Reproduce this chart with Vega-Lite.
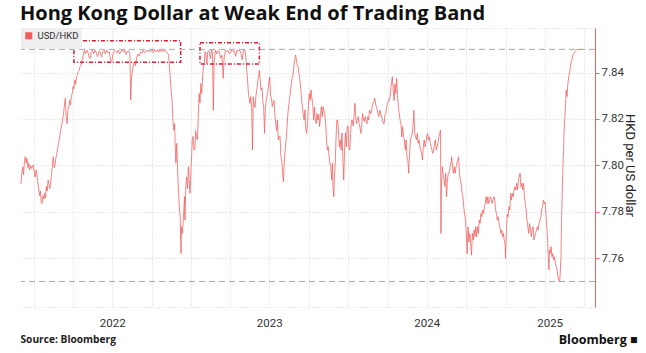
{
  "$schema": "https://vega.github.io/schema/vega-lite/v6.json",
  "width": 574,
  "height": 279,
  "autosize": "none",
  "padding": {"left": 21, "top": 28, "right": 51, "bottom": 46},
  "background": "white",
  "config": {
    "view": {"stroke": null},
    "font": "Roboto",
    "axis": {"labelFont": "Roboto", "titleFont": "Roboto"}
  },
  "title": {
    "text": "Hong Kong Dollar at Weak End of Trading Band",
    "anchor": "start",
    "frame": "group",
    "font": "Open Sans",
    "fontSize": 20,
    "fontWeight": "bold",
    "color": "#111111",
    "offset": 4,
    "dx": -1
  },
  "resolve": {"axis": {"x": "independent"}},
  "layer": [
    {
      "data": {"values": [{"v": 7.75}, {"v": 7.85}]},
      "mark": {"type": "rule", "color": "#a8a8a8", "strokeDash": [6, 4], "strokeWidth": 1},
      "encoding": {
        "y": {"field": "v", "type": "quantitative", "scale": {"domain": [7.739, 7.8592], "nice": false, "zero": false}}
      }
    },
    {
      "data": {"values": [
        {"d":"2021-12-01","v":7.792},{"d":"2021-12-03","v":7.797},{"d":"2021-12-05","v":7.7994},{"d":"2021-12-07","v":7.796},{"d":"2021-12-09","v":7.802},{"d":"2021-12-11","v":7.8037},{"d":"2021-12-13","v":7.801},{"d":"2021-12-15","v":7.803},{"d":"2021-12-17","v":7.799},{"d":"2021-12-19","v":7.801},{"d":"2021-12-21","v":7.798},{"d":"2021-12-23","v":7.800},{"d":"2021-12-26","v":7.7987},{"d":"2021-12-28","v":7.800},{"d":"2021-12-30","v":7.800},
        {"d":"2022-01-01","v":7.797},{"d":"2022-01-03","v":7.795},{"d":"2022-01-05","v":7.798},{"d":"2022-01-07","v":7.796},{"d":"2022-01-09","v":7.793},{"d":"2022-01-11","v":7.790},{"d":"2022-01-13","v":7.787},{"d":"2022-01-15","v":7.789},{"d":"2022-01-17","v":7.784},{"d":"2022-01-19","v":7.7836},{"d":"2022-01-21","v":7.787},{"d":"2022-01-23","v":7.7855},{"d":"2022-01-25","v":7.788},{"d":"2022-01-27","v":7.786},{"d":"2022-01-29","v":7.791},{"d":"2022-01-31","v":7.789},
        {"d":"2022-02-02","v":7.7937},{"d":"2022-02-04","v":7.792},{"d":"2022-02-06","v":7.790},{"d":"2022-02-08","v":7.793},{"d":"2022-02-10","v":7.7966},{"d":"2022-02-12","v":7.800},{"d":"2022-02-14","v":7.8037},{"d":"2022-02-16","v":7.799},{"d":"2022-02-18","v":7.800},{"d":"2022-02-20","v":7.803},{"d":"2022-02-22","v":7.805},{"d":"2022-02-24","v":7.807},{"d":"2022-02-26","v":7.8095},{"d":"2022-02-28","v":7.811},
        {"d":"2022-03-02","v":7.8138},{"d":"2022-03-04","v":7.816},{"d":"2022-03-06","v":7.818},{"d":"2022-03-08","v":7.820},{"d":"2022-03-10","v":7.8224},{"d":"2022-03-12","v":7.826},{"d":"2022-03-14","v":7.829},{"d":"2022-03-16","v":7.821},{"d":"2022-03-18","v":7.818},{"d":"2022-03-20","v":7.824},{"d":"2022-03-22","v":7.8253},{"d":"2022-03-24","v":7.828},{"d":"2022-03-26","v":7.826},{"d":"2022-03-28","v":7.8296},{"d":"2022-03-30","v":7.831},
        {"d":"2022-04-01","v":7.834},{"d":"2022-04-03","v":7.833},{"d":"2022-04-05","v":7.8368},{"d":"2022-04-07","v":7.835},{"d":"2022-04-09","v":7.838},{"d":"2022-04-11","v":7.839},{"d":"2022-04-13","v":7.8404},{"d":"2022-04-15","v":7.841},{"d":"2022-04-17","v":7.8425},{"d":"2022-04-19","v":7.843},{"d":"2022-04-21","v":7.8447},{"d":"2022-04-23","v":7.846},{"d":"2022-04-25","v":7.8476},{"d":"2022-04-27","v":7.8495},{"d":"2022-04-30","v":7.848},
        {"d":"2022-05-03","v":7.8497},{"d":"2022-05-06","v":7.8485},{"d":"2022-05-09","v":7.8462},{"d":"2022-05-11","v":7.8461},{"d":"2022-05-13","v":7.849},{"d":"2022-05-16","v":7.8497},{"d":"2022-05-19","v":7.848},{"d":"2022-05-22","v":7.8497},{"d":"2022-05-25","v":7.8485},{"d":"2022-05-28","v":7.8468},{"d":"2022-05-31","v":7.8492},
        {"d":"2022-06-03","v":7.8488},{"d":"2022-06-06","v":7.8468},{"d":"2022-06-09","v":7.849},{"d":"2022-06-12","v":7.8496},{"d":"2022-06-15","v":7.848},{"d":"2022-06-18","v":7.8497},{"d":"2022-06-21","v":7.8485},{"d":"2022-06-24","v":7.849},{"d":"2022-06-27","v":7.8455},{"d":"2022-06-30","v":7.8447},
        {"d":"2022-07-03","v":7.848},{"d":"2022-07-06","v":7.8495},{"d":"2022-07-09","v":7.849},{"d":"2022-07-12","v":7.8485},{"d":"2022-07-15","v":7.8497},{"d":"2022-07-18","v":7.848},{"d":"2022-07-21","v":7.849},{"d":"2022-07-24","v":7.8497},{"d":"2022-07-27","v":7.8488},{"d":"2022-07-30","v":7.8496},
        {"d":"2022-08-02","v":7.8478},{"d":"2022-08-05","v":7.849},{"d":"2022-08-08","v":7.8495},{"d":"2022-08-11","v":7.8481},{"d":"2022-08-13","v":7.8281},{"d":"2022-08-15","v":7.838},{"d":"2022-08-18","v":7.842},{"d":"2022-08-21","v":7.8445},{"d":"2022-08-24","v":7.843},{"d":"2022-08-27","v":7.8465},{"d":"2022-08-30","v":7.848},
        {"d":"2022-09-02","v":7.8472},{"d":"2022-09-05","v":7.849},{"d":"2022-09-08","v":7.8485},{"d":"2022-09-11","v":7.8496},{"d":"2022-09-14","v":7.8485},{"d":"2022-09-17","v":7.849},{"d":"2022-09-20","v":7.8497},{"d":"2022-09-23","v":7.8488},{"d":"2022-09-26","v":7.8496},{"d":"2022-09-29","v":7.849},
        {"d":"2022-10-02","v":7.8498},{"d":"2022-10-05","v":7.8485},{"d":"2022-10-08","v":7.8496},{"d":"2022-10-11","v":7.849},{"d":"2022-10-14","v":7.8499},{"d":"2022-10-17","v":7.8488},{"d":"2022-10-20","v":7.8497},{"d":"2022-10-23","v":7.849},{"d":"2022-10-26","v":7.8498},{"d":"2022-10-29","v":7.849},
        {"d":"2022-11-01","v":7.8496},{"d":"2022-11-04","v":7.8488},{"d":"2022-11-07","v":7.8483},{"d":"2022-11-09","v":7.8475},{"d":"2022-11-12","v":7.840},{"d":"2022-11-15","v":7.832},{"d":"2022-11-17","v":7.828},{"d":"2022-11-19","v":7.8195},{"d":"2022-11-21","v":7.8152},{"d":"2022-11-23","v":7.818},{"d":"2022-11-24","v":7.811},{"d":"2022-11-26","v":7.801},{"d":"2022-11-28","v":7.8095},{"d":"2022-11-30","v":7.798},
        {"d":"2022-12-02","v":7.789},{"d":"2022-12-04","v":7.782},{"d":"2022-12-06","v":7.7779},{"d":"2022-12-07","v":7.7678},{"d":"2022-12-08","v":7.762},{"d":"2022-12-09","v":7.7736},{"d":"2022-12-11","v":7.7707},{"d":"2022-12-13","v":7.776},{"d":"2022-12-14","v":7.7793},{"d":"2022-12-16","v":7.7865},{"d":"2022-12-17","v":7.7764},{"d":"2022-12-19","v":7.7908},{"d":"2022-12-21","v":7.795},{"d":"2022-12-23","v":7.790},{"d":"2022-12-25","v":7.7994},{"d":"2022-12-27","v":7.793},{"d":"2022-12-29","v":7.788},{"d":"2022-12-31","v":7.798},
        {"d":"2023-01-02","v":7.806},{"d":"2023-01-03","v":7.811},{"d":"2023-01-05","v":7.8125},{"d":"2023-01-07","v":7.807},{"d":"2023-01-09","v":7.8066},{"d":"2023-01-11","v":7.815},{"d":"2023-01-13","v":7.812},{"d":"2023-01-15","v":7.811},{"d":"2023-01-17","v":7.821},{"d":"2023-01-19","v":7.831},{"d":"2023-01-21","v":7.827},{"d":"2023-01-23","v":7.8353},{"d":"2023-01-25","v":7.831},{"d":"2023-01-27","v":7.8382},{"d":"2023-01-29","v":7.8425},{"d":"2023-01-31","v":7.8445},
        {"d":"2023-02-02","v":7.849},{"d":"2023-02-04","v":7.8475},{"d":"2023-02-06","v":7.844},{"d":"2023-02-08","v":7.849},{"d":"2023-02-11","v":7.8495},{"d":"2023-02-14","v":7.846},{"d":"2023-02-17","v":7.8497},{"d":"2023-02-19","v":7.849},{"d":"2023-02-21","v":7.8238},{"d":"2023-02-23","v":7.845},{"d":"2023-02-26","v":7.8497},
        {"d":"2023-03-01","v":7.848},{"d":"2023-03-04","v":7.8495},{"d":"2023-03-07","v":7.8488},{"d":"2023-03-10","v":7.8462},{"d":"2023-03-13","v":7.8475},{"d":"2023-03-16","v":7.8375},{"d":"2023-03-18","v":7.846},{"d":"2023-03-21","v":7.8497},{"d":"2023-03-24","v":7.849},{"d":"2023-03-27","v":7.8496},{"d":"2023-03-30","v":7.848},
        {"d":"2023-04-02","v":7.8485},{"d":"2023-04-05","v":7.8497},{"d":"2023-04-08","v":7.849},{"d":"2023-04-11","v":7.8492},{"d":"2023-04-14","v":7.847},{"d":"2023-04-17","v":7.8498},{"d":"2023-04-20","v":7.8492},{"d":"2023-04-23","v":7.8497},{"d":"2023-04-26","v":7.8485},{"d":"2023-04-29","v":7.8455},
        {"d":"2023-05-02","v":7.8495},{"d":"2023-05-05","v":7.8497},{"d":"2023-05-07","v":7.848},{"d":"2023-05-09","v":7.8425},{"d":"2023-05-11","v":7.838},{"d":"2023-05-13","v":7.8325},{"d":"2023-05-15","v":7.829},{"d":"2023-05-17","v":7.8267},{"d":"2023-05-19","v":7.8296},{"d":"2023-05-21","v":7.825},{"d":"2023-05-23","v":7.8066},{"d":"2023-05-25","v":7.8296},{"d":"2023-05-27","v":7.826},{"d":"2023-05-29","v":7.825},{"d":"2023-05-31","v":7.830},
        {"d":"2023-06-02","v":7.8325},{"d":"2023-06-04","v":7.836},{"d":"2023-06-06","v":7.838},{"d":"2023-06-08","v":7.841},{"d":"2023-06-10","v":7.837},{"d":"2023-06-12","v":7.8325},{"d":"2023-06-14","v":7.8335},{"d":"2023-06-16","v":7.828},{"d":"2023-06-18","v":7.825},{"d":"2023-06-20","v":7.8138},{"d":"2023-06-22","v":7.825},{"d":"2023-06-24","v":7.828},{"d":"2023-06-26","v":7.830},{"d":"2023-06-28","v":7.8325},{"d":"2023-06-30","v":7.836},
        {"d":"2023-07-02","v":7.838},{"d":"2023-07-04","v":7.830},{"d":"2023-07-06","v":7.829},{"d":"2023-07-08","v":7.8253},{"d":"2023-07-10","v":7.827},{"d":"2023-07-12","v":7.828},{"d":"2023-07-14","v":7.822},{"d":"2023-07-16","v":7.818},{"d":"2023-07-18","v":7.815},{"d":"2023-07-20","v":7.8195},{"d":"2023-07-22","v":7.811},{"d":"2023-07-24","v":7.8125},{"d":"2023-07-26","v":7.8125},{"d":"2023-07-28","v":7.8037},{"d":"2023-07-30","v":7.8023},
        {"d":"2023-08-01","v":7.7966},{"d":"2023-08-03","v":7.793},{"d":"2023-08-05","v":7.8023},{"d":"2023-08-07","v":7.8066},{"d":"2023-08-09","v":7.811},{"d":"2023-08-11","v":7.8155},{"d":"2023-08-13","v":7.822},{"d":"2023-08-15","v":7.8253},{"d":"2023-08-17","v":7.829},{"d":"2023-08-19","v":7.831},{"d":"2023-08-21","v":7.835},{"d":"2023-08-23","v":7.8375},{"d":"2023-08-25","v":7.839},{"d":"2023-08-27","v":7.8425},{"d":"2023-08-29","v":7.8455},{"d":"2023-08-31","v":7.8476},
        {"d":"2023-09-02","v":7.8455},{"d":"2023-09-04","v":7.843},{"d":"2023-09-06","v":7.8425},{"d":"2023-09-08","v":7.8397},{"d":"2023-09-10","v":7.837},{"d":"2023-09-12","v":7.834},{"d":"2023-09-14","v":7.828},{"d":"2023-09-16","v":7.825},{"d":"2023-09-18","v":7.822},{"d":"2023-09-20","v":7.8195},{"d":"2023-09-22","v":7.824},{"d":"2023-09-24","v":7.8152},{"d":"2023-09-26","v":7.8138},{"d":"2023-09-28","v":7.818},{"d":"2023-09-30","v":7.826},
        {"d":"2023-10-02","v":7.831},{"d":"2023-10-04","v":7.828},{"d":"2023-10-06","v":7.8325},{"d":"2023-10-08","v":7.829},{"d":"2023-10-10","v":7.8267},{"d":"2023-10-12","v":7.8195},{"d":"2023-10-14","v":7.825},{"d":"2023-10-16","v":7.8195},{"d":"2023-10-18","v":7.818},{"d":"2023-10-20","v":7.8224},{"d":"2023-10-22","v":7.8195},{"d":"2023-10-24","v":7.822},{"d":"2023-10-26","v":7.8167},{"d":"2023-10-28","v":7.821},{"d":"2023-10-30","v":7.8253},
        {"d":"2023-11-01","v":7.821},{"d":"2023-11-03","v":7.8253},{"d":"2023-11-05","v":7.8238},{"d":"2023-11-07","v":7.8224},{"d":"2023-11-09","v":7.818},{"d":"2023-11-11","v":7.811},{"d":"2023-11-13","v":7.8066},{"d":"2023-11-15","v":7.808},{"d":"2023-11-17","v":7.8037},{"d":"2023-11-19","v":7.801},{"d":"2023-11-21","v":7.7994},{"d":"2023-11-23","v":7.7937},{"d":"2023-11-25","v":7.801},{"d":"2023-11-26","v":7.791},{"d":"2023-11-28","v":7.7865},{"d":"2023-11-29","v":7.7937},
        {"d":"2023-12-01","v":7.7994},{"d":"2023-12-03","v":7.811},{"d":"2023-12-05","v":7.8195},{"d":"2023-12-07","v":7.8195},{"d":"2023-12-09","v":7.814},{"d":"2023-12-11","v":7.808},{"d":"2023-12-13","v":7.811},{"d":"2023-12-15","v":7.8066},{"d":"2023-12-17","v":7.814},{"d":"2023-12-19","v":7.803},{"d":"2023-12-21","v":7.7937},{"d":"2023-12-23","v":7.8066},{"d":"2023-12-25","v":7.814},{"d":"2023-12-27","v":7.808},{"d":"2023-12-29","v":7.8167},{"d":"2023-12-31","v":7.817},
        {"d":"2024-01-02","v":7.808},{"d":"2024-01-04","v":7.8066},{"d":"2024-01-06","v":7.8138},{"d":"2024-01-08","v":7.8195},{"d":"2024-01-10","v":7.8195},{"d":"2024-01-12","v":7.817},{"d":"2024-01-14","v":7.821},{"d":"2024-01-16","v":7.8267},{"d":"2024-01-18","v":7.821},{"d":"2024-01-20","v":7.818},{"d":"2024-01-22","v":7.820},{"d":"2024-01-24","v":7.821},{"d":"2024-01-26","v":7.818},{"d":"2024-01-28","v":7.816},{"d":"2024-01-30","v":7.8138},
        {"d":"2024-02-01","v":7.818},{"d":"2024-02-03","v":7.8224},{"d":"2024-02-05","v":7.8195},{"d":"2024-02-07","v":7.819},{"d":"2024-02-09","v":7.821},{"d":"2024-02-11","v":7.819},{"d":"2024-02-13","v":7.818},{"d":"2024-02-15","v":7.821},{"d":"2024-02-17","v":7.8195},{"d":"2024-02-19","v":7.8238},{"d":"2024-02-21","v":7.8224},{"d":"2024-02-23","v":7.8225},{"d":"2024-02-25","v":7.8253},{"d":"2024-02-27","v":7.8267},{"d":"2024-02-29","v":7.8275},
        {"d":"2024-03-02","v":7.829},{"d":"2024-03-04","v":7.8267},{"d":"2024-03-06","v":7.825},{"d":"2024-03-08","v":7.8238},{"d":"2024-03-10","v":7.822},{"d":"2024-03-12","v":7.821},{"d":"2024-03-14","v":7.8238},{"d":"2024-03-16","v":7.8224},{"d":"2024-03-18","v":7.821},{"d":"2024-03-20","v":7.8195},{"d":"2024-03-22","v":7.818},{"d":"2024-03-24","v":7.818},{"d":"2024-03-26","v":7.822},{"d":"2024-03-28","v":7.8224},{"d":"2024-03-30","v":7.8253},
        {"d":"2024-04-01","v":7.8267},{"d":"2024-04-03","v":7.8282},{"d":"2024-04-05","v":7.828},{"d":"2024-04-07","v":7.830},{"d":"2024-04-09","v":7.834},{"d":"2024-04-11","v":7.8368},{"d":"2024-04-12","v":7.8382},{"d":"2024-04-14","v":7.8325},{"d":"2024-04-16","v":7.828},{"d":"2024-04-18","v":7.835},{"d":"2024-04-20","v":7.831},{"d":"2024-04-22","v":7.8375},{"d":"2024-04-24","v":7.830},{"d":"2024-04-26","v":7.8253},{"d":"2024-04-28","v":7.8224},{"d":"2024-04-30","v":7.8195},
        {"d":"2024-05-02","v":7.818},{"d":"2024-05-04","v":7.8123},{"d":"2024-05-06","v":7.8166},{"d":"2024-05-08","v":7.8125},{"d":"2024-05-10","v":7.811},{"d":"2024-05-12","v":7.8066},{"d":"2024-05-14","v":7.811},{"d":"2024-05-16","v":7.8037},{"d":"2024-05-18","v":7.8023},{"d":"2024-05-20","v":7.7966},{"d":"2024-05-22","v":7.805},{"d":"2024-05-24","v":7.811},{"d":"2024-05-26","v":7.8123},{"d":"2024-05-28","v":7.8135},{"d":"2024-05-30","v":7.8167},
        {"d":"2024-06-01","v":7.8238},{"d":"2024-06-03","v":7.8138},{"d":"2024-06-05","v":7.8123},{"d":"2024-06-07","v":7.811},{"d":"2024-06-09","v":7.8138},{"d":"2024-06-11","v":7.8095},{"d":"2024-06-13","v":7.811},{"d":"2024-06-15","v":7.808},{"d":"2024-06-17","v":7.8066},{"d":"2024-06-19","v":7.8052},{"d":"2024-06-21","v":7.8023},{"d":"2024-06-23","v":7.808},{"d":"2024-06-25","v":7.811},{"d":"2024-06-27","v":7.808},{"d":"2024-06-29","v":7.8095},
        {"d":"2024-07-01","v":7.8123},{"d":"2024-07-03","v":7.8138},{"d":"2024-07-05","v":7.811},{"d":"2024-07-07","v":7.8123},{"d":"2024-07-09","v":7.8095},{"d":"2024-07-11","v":7.808},{"d":"2024-07-13","v":7.8066},{"d":"2024-07-15","v":7.8052},{"d":"2024-07-17","v":7.8066},{"d":"2024-07-19","v":7.8095},{"d":"2024-07-21","v":7.811},{"d":"2024-07-23","v":7.8066},{"d":"2024-07-25","v":7.808},{"d":"2024-07-27","v":7.8095},{"d":"2024-07-29","v":7.8123},{"d":"2024-07-31","v":7.8138},
        {"d":"2024-08-02","v":7.8152},{"d":"2024-08-03","v":7.7707},{"d":"2024-08-04","v":7.790},{"d":"2024-08-06","v":7.7994},{"d":"2024-08-08","v":7.7966},{"d":"2024-08-10","v":7.7937},{"d":"2024-08-12","v":7.791},{"d":"2024-08-14","v":7.7966},{"d":"2024-08-16","v":7.7865},{"d":"2024-08-18","v":7.7937},{"d":"2024-08-20","v":7.7966},{"d":"2024-08-22","v":7.7966},{"d":"2024-08-24","v":7.799},{"d":"2024-08-26","v":7.801},{"d":"2024-08-28","v":7.8037},{"d":"2024-08-30","v":7.7994},
        {"d":"2024-09-01","v":7.7966},{"d":"2024-09-03","v":7.7994},{"d":"2024-09-05","v":7.7966},{"d":"2024-09-07","v":7.7994},{"d":"2024-09-09","v":7.801},{"d":"2024-09-11","v":7.8023},{"d":"2024-09-13","v":7.8037},{"d":"2024-09-15","v":7.7966},{"d":"2024-09-17","v":7.7937},{"d":"2024-09-19","v":7.792},{"d":"2024-09-21","v":7.788},{"d":"2024-09-23","v":7.7865},{"d":"2024-09-25","v":7.782},{"d":"2024-09-27","v":7.779},{"d":"2024-09-29","v":7.7765},
        {"d":"2024-10-01","v":7.7707},{"d":"2024-10-03","v":7.762},{"d":"2024-10-05","v":7.7735},{"d":"2024-10-07","v":7.767},{"d":"2024-10-09","v":7.7707},{"d":"2024-10-11","v":7.766},{"d":"2024-10-13","v":7.7613},{"d":"2024-10-15","v":7.7707},{"d":"2024-10-17","v":7.7678},{"d":"2024-10-19","v":7.7722},{"d":"2024-10-21","v":7.7693},{"d":"2024-10-23","v":7.7736},{"d":"2024-10-25","v":7.7693},{"d":"2024-10-27","v":7.7736},{"d":"2024-10-29","v":7.7707},{"d":"2024-10-31","v":7.7764},
        {"d":"2024-11-02","v":7.775},{"d":"2024-11-04","v":7.7793},{"d":"2024-11-06","v":7.7779},{"d":"2024-11-08","v":7.7808},{"d":"2024-11-10","v":7.7793},{"d":"2024-11-12","v":7.7822},{"d":"2024-11-14","v":7.7836},{"d":"2024-11-16","v":7.7865},{"d":"2024-11-18","v":7.7836},{"d":"2024-11-20","v":7.7865},{"d":"2024-11-22","v":7.7836},{"d":"2024-11-24","v":7.7851},{"d":"2024-11-26","v":7.7865},{"d":"2024-11-28","v":7.7851},{"d":"2024-11-30","v":7.7836},
        {"d":"2024-12-02","v":7.7851},{"d":"2024-12-04","v":7.7865},{"d":"2024-12-06","v":7.7851},{"d":"2024-12-08","v":7.7808},{"d":"2024-12-10","v":7.7793},{"d":"2024-12-12","v":7.7764},{"d":"2024-12-14","v":7.7779},{"d":"2024-12-16","v":7.775},{"d":"2024-12-18","v":7.7736},{"d":"2024-12-20","v":7.7707},{"d":"2024-12-22","v":7.7722},{"d":"2024-12-24","v":7.7693},{"d":"2024-12-26","v":7.7707},{"d":"2024-12-28","v":7.7678},{"d":"2024-12-30","v":7.766},{"d":"2024-12-31","v":7.760},
        {"d":"2025-01-02","v":7.7707},{"d":"2025-01-04","v":7.779},{"d":"2025-01-06","v":7.7779},{"d":"2025-01-08","v":7.7822},{"d":"2025-01-10","v":7.7808},{"d":"2025-01-12","v":7.788},{"d":"2025-01-14","v":7.7851},{"d":"2025-01-16","v":7.788},{"d":"2025-01-18","v":7.7865},{"d":"2025-01-20","v":7.7894},{"d":"2025-01-22","v":7.7908},{"d":"2025-01-24","v":7.7894},{"d":"2025-01-26","v":7.7923},{"d":"2025-01-28","v":7.7894},{"d":"2025-01-30","v":7.7937},
        {"d":"2025-02-01","v":7.7951},{"d":"2025-02-03","v":7.7966},{"d":"2025-02-05","v":7.7908},{"d":"2025-02-07","v":7.7923},{"d":"2025-02-09","v":7.7894},{"d":"2025-02-11","v":7.7923},{"d":"2025-02-13","v":7.7865},{"d":"2025-02-15","v":7.7836},{"d":"2025-02-17","v":7.7808},{"d":"2025-02-19","v":7.7764},{"d":"2025-02-21","v":7.7736},{"d":"2025-02-23","v":7.7707},{"d":"2025-02-25","v":7.775},{"d":"2025-02-27","v":7.7722},
        {"d":"2025-03-01","v":7.7693},{"d":"2025-03-03","v":7.7722},{"d":"2025-03-05","v":7.7736},{"d":"2025-03-07","v":7.7679},{"d":"2025-03-09","v":7.7693},{"d":"2025-03-11","v":7.7707},{"d":"2025-03-13","v":7.7722},{"d":"2025-03-15","v":7.7736},{"d":"2025-03-17","v":7.7722},{"d":"2025-03-19","v":7.775},{"d":"2025-03-21","v":7.7764},{"d":"2025-03-23","v":7.7779},{"d":"2025-03-25","v":7.7808},{"d":"2025-03-27","v":7.7822},{"d":"2025-03-29","v":7.7851},{"d":"2025-03-31","v":7.7836},
        {"d":"2025-04-02","v":7.7843},{"d":"2025-04-04","v":7.7793},{"d":"2025-04-06","v":7.7736},{"d":"2025-04-08","v":7.7678},{"d":"2025-04-09","v":7.762},{"d":"2025-04-11","v":7.755},{"d":"2025-04-12","v":7.7635},{"d":"2025-04-14","v":7.762},{"d":"2025-04-16","v":7.765},{"d":"2025-04-18","v":7.7606},{"d":"2025-04-20","v":7.762},{"d":"2025-04-22","v":7.7592},{"d":"2025-04-24","v":7.7606},{"d":"2025-04-26","v":7.7578},{"d":"2025-04-28","v":7.7563},{"d":"2025-04-30","v":7.7549},
        {"d":"2025-05-02","v":7.752},{"d":"2025-05-04","v":7.7504},{"d":"2025-05-06","v":7.7501},{"d":"2025-05-07","v":7.753},{"d":"2025-05-09","v":7.7606},{"d":"2025-05-10","v":7.775},{"d":"2025-05-12","v":7.7894},{"d":"2025-05-13","v":7.7966},{"d":"2025-05-15","v":7.8066},{"d":"2025-05-16","v":7.8138},{"d":"2025-05-18","v":7.821},{"d":"2025-05-20","v":7.8282},{"d":"2025-05-21","v":7.8325},{"d":"2025-05-23","v":7.8296},{"d":"2025-05-25","v":7.8353},{"d":"2025-05-27","v":7.8382},{"d":"2025-05-29","v":7.8405},{"d":"2025-05-31","v":7.8425},
        {"d":"2025-06-02","v":7.8447},{"d":"2025-06-04","v":7.8461},{"d":"2025-06-06","v":7.8476},{"d":"2025-06-08","v":7.8483},{"d":"2025-06-10","v":7.849},{"d":"2025-06-12","v":7.8495},{"d":"2025-06-14","v":7.8498},{"d":"2025-06-16","v":7.8499},{"d":"2025-06-18","v":7.85},{"d":"2025-06-20","v":7.8499},{"d":"2025-06-22","v":7.85},{"d":"2025-06-24","v":7.8499},{"d":"2025-06-26","v":7.85}
      ]},
      "mark": {"type": "line", "stroke": "#f25c5c", "strokeWidth": 0.9, "opacity": 0.85, "interpolate": "linear"},
      "encoding": {
        "x": {
          "field": "d", "type": "temporal",
          "scale": {"type": "utc", "domain": [{"year": 2021, "month": 12, "date": 1, "utc": true}, {"year": 2025, "month": 7, "date": 27, "utc": true}]},
          "axis": {
            "orient": "bottom",
            "values": [
              {"year": 2022, "month": 1, "date": 1, "utc": true}, {"year": 2022, "month": 4, "date": 1, "utc": true}, {"year": 2022, "month": 7, "date": 1, "utc": true}, {"year": 2022, "month": 10, "date": 1, "utc": true},
              {"year": 2023, "month": 1, "date": 1, "utc": true}, {"year": 2023, "month": 4, "date": 1, "utc": true}, {"year": 2023, "month": 7, "date": 1, "utc": true}, {"year": 2023, "month": 10, "date": 1, "utc": true},
              {"year": 2024, "month": 1, "date": 1, "utc": true}, {"year": 2024, "month": 4, "date": 1, "utc": true}, {"year": 2024, "month": 7, "date": 1, "utc": true}, {"year": 2024, "month": 10, "date": 1, "utc": true},
              {"year": 2025, "month": 1, "date": 1, "utc": true}, {"year": 2025, "month": 4, "date": 1, "utc": true}, {"year": 2025, "month": 7, "date": 1, "utc": true}
            ],
            "grid": true, "gridColor": "#d6d6d6", "gridDash": [1, 2], "gridWidth": 1,
            "domain": false, "ticks": false,
            "labelExpr": "(utcmonth(datum.value) == 6 && utcyear(datum.value) < 2025) || (utcyear(datum.value) == 2025 && utcmonth(datum.value) == 3) ? utcFormat(datum.value, '%Y') : ''",
            "labelOffset": {"condition": {"test": "utcyear(datum.value) == 2025", "value": 5}, "value": 0},
            "labelOverlap": false, "labelFlush": false,
            "labelFontSize": 11.5, "labelColor": "#333333", "labelPadding": 10,
            "title": "Source: Bloomberg", "titleFont": "Open Sans", "titleFontSize": 10.2, "titleFontWeight": "bold", "titleColor": "#222222",
            "titleAnchor": "start", "titleAlign": "left", "titleBaseline": "middle", "titleX": -1, "titleY": 32
          }
        },
        "y": {
          "field": "v", "type": "quantitative",
          "scale": {"domain": [7.739, 7.8592], "nice": false, "zero": false},
          "axis": {
            "orient": "right",
            "values": [7.739, 7.76, 7.78, 7.80, 7.82, 7.84, 7.8592],
            "labelExpr": "datum.value < 7.75 || datum.value > 7.855 ? '' : format(datum.value, '.2f')",
            "grid": true, "gridColor": "#d6d6d6", "gridDash": [1, 2], "gridWidth": 1,
            "domain": true, "domainColor": "#f06262", "domainWidth": 1,
            "ticks": true, "tickColor": "#f06262", "tickSize": 4,
            "tickOpacity": {"condition": {"test": "datum.value < 7.75 || datum.value > 7.855", "value": 0}, "value": 1},
            "labelFontSize": 11.5, "labelColor": "#333333", "labelPadding": 2,
            "title": "HKD per US dollar", "titleFontSize": 13, "titleFontWeight": "normal", "titleColor": "#222222",
            "titleAngle": 90, "titleAlign": "center", "titleBaseline": "middle", "titleX": 34, "titleY": 137
          }
        },
        "color": {
          "datum": "USD/HKD",
          "scale": {"range": ["#f25c5c"]},
          "legend": {
            "orient": "top-left", "offset": 0, "title": null,
            "fillColor": "#eeeeee", "padding": 3,
            "symbolType": "square", "symbolSize": 9, "symbolStrokeWidth": 4, "symbolOpacity": 1,
            "labelFontSize": 9.5, "labelColor": "#333333", "labelFont": "Roboto"
          }
        }
      }
    },
    {
      "data": {"values": [
        {"x1": "2022-04-03", "x2": "2022-12-07", "y1": 7.8444, "y2": 7.8537},
        {"x1": "2023-01-21", "x2": "2023-06-08", "y1": 7.8437, "y2": 7.8528}
      ]},
      "mark": {"type": "rect", "fill": null, "fillOpacity": 0, "stroke": "#dc1e32", "strokeWidth": 1.5, "strokeDash": [4, 2, 1, 2]},
      "encoding": {
        "x": {
          "field": "x1", "type": "temporal",
          "axis": {
            "orient": "bottom", "labels": false, "ticks": false, "domain": false, "grid": false,
            "title": "Bloomberg \u25a0", "titleFont": "Open Sans", "titleFontSize": 12.5, "titleFontWeight": "bold", "titleColor": "#111111",
            "titleAlign": "right", "titleBaseline": "middle", "titleX": 616, "titleY": 32
          }
        },
        "x2": {"field": "x2"},
        "y": {"field": "y1", "type": "quantitative"},
        "y2": {"field": "y2"}
      }
    }
  ]
}
